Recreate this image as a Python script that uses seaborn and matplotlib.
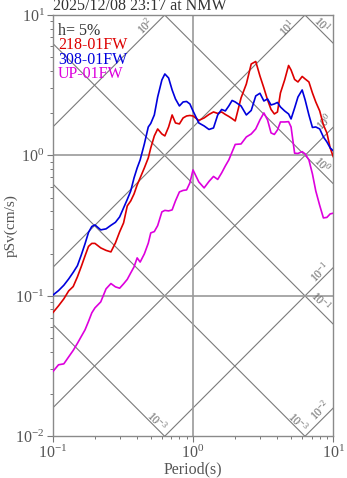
import matplotlib
matplotlib.use("Agg")
import matplotlib.pyplot as plt
import numpy as np
import pandas as pd
import seaborn as sns
from matplotlib.ticker import LogLocator, LogFormatterMathtext, NullFormatter

# Pseudo-velocity response spectra (h = 5%), three components
periods = [0.10, 0.11, 0.12, 0.13, 0.14, 0.15, 0.16, 0.17, 0.18, 0.19, 0.20,
           0.22, 0.24, 0.26, 0.28, 0.30, 0.32, 0.34, 0.36, 0.38, 0.40, 0.42,
           0.45, 0.48, 0.50, 0.53, 0.56, 0.60, 0.63, 0.67, 0.71, 0.75, 0.80,
           0.85, 0.90, 0.95,
           1.0, 1.1, 1.2, 1.3, 1.4, 1.5, 1.6, 1.7, 1.8, 1.9, 2.0,
           2.2, 2.4, 2.6, 2.8, 3.0, 3.2, 3.4, 3.6, 3.8, 4.0, 4.2,
           4.5, 4.8, 5.0, 5.3, 5.6, 6.0, 6.3, 6.7, 7.1, 7.5, 8.0, 8.5, 9.0,
           9.5, 10.0]

sv_218 = [0.0757, 0.0849, 0.0952, 0.1085, 0.1165, 0.1365, 0.1622, 0.1926, 0.2251, 0.2364, 0.2364,
          0.2196, 0.2108, 0.2056, 0.2384, 0.2855, 0.3308, 0.437, 0.4745, 0.532, 0.6166, 0.6916,
          0.8149, 0.9598, 1.131, 1.377, 1.544, 1.422, 1.377, 1.595, 1.942, 1.703, 1.676,
          1.849, 1.91, 1.926,
          1.91, 1.775, 1.849, 1.958, 2.04, 1.991, 2.04, 1.958, 1.895, 1.828, 1.76,
          2.566, 3.228, 4.479, 4.667, 3.68, 3.023, 2.483, 2.125, 1.974, 2.04, 2.786,
          3.446, 4.371, 4.059, 3.475, 3.336, 3.651, 3.503, 3.336, 2.786, 2.403, 2.074, 1.649, 1.446,
          1.131, 0.976]

sv_308 = [0.101, 0.109, 0.119, 0.132, 0.147, 0.164, 0.196, 0.235, 0.283, 0.312, 0.320,
          0.295, 0.300, 0.318, 0.334, 0.365, 0.423, 0.486, 0.559, 0.692, 0.815, 0.929,
          1.207, 1.595, 1.69, 1.942, 2.608, 3.446, 3.803, 3.561, 2.926, 2.524, 2.251,
          2.403, 2.423, 2.326,
          2.074, 1.703, 1.622, 1.531, 1.569, 1.942, 2.125, 2.074, 2.251, 2.463, 2.403,
          2.251, 1.942, 2.091, 2.652, 2.772, 2.443, 2.524, 2.288, 2.326, 2.384, 2.214,
          2.074, 1.974, 1.819, 2.178, 2.608, 2.926, 2.483, 1.942, 1.582, 1.595, 1.544, 1.354, 1.248,
          1.131, 1.077]

sv_up = [0.0288, 0.0323, 0.0328, 0.0368, 0.0409, 0.0459, 0.0515, 0.0573, 0.0658, 0.0757, 0.0821,
         0.0906, 0.1122, 0.1224, 0.1159, 0.1134, 0.1218, 0.1311, 0.1458, 0.1609, 0.1864, 0.174,
         0.199, 0.2372, 0.2808, 0.2869, 0.3165, 0.3962, 0.4061, 0.4027, 0.4094, 0.4745, 0.5497,
         0.5635, 0.568, 0.6373,
         0.7886, 0.6477, 0.5871, 0.6531, 0.7087, 0.6748, 0.7506, 0.8418, 0.929, 1.059, 1.198,
         1.207, 1.354, 1.422, 1.544, 1.789, 2.007, 1.789, 1.446, 1.411, 1.519, 1.731,
         1.731, 1.74, 1.595, 1.037, 1.033, 1.064, 1.025, 0.929, 0.7385, 0.5588, 0.4406, 0.359,
         0.362, 0.3834, 0.3879]

components = ["218-01FW", "308-01FW", "UP-01FW"]
colors = ["#dd0000", "#0000dd", "#dd00dd"]

# Tripartite guide lines: constant acceleration (cm/s^2) and displacement (cm)
accel_exponents = [2, 1, 0, -1, -2]
disp_exponents = [1, 0, -1, -2, -3]

# Guide line labels: (text, period, pSv, rotation)
guide_labels = [
    ("10$^{2}$", 0.455, 8.35, 45),
    ("10$^{1}$", 4.68, 8.08, 45),
    ("10$^{1}$", 8.31, 8.63, -45),
    ("10$^{0}$", 8.59, 1.73, 45),
    ("10$^{0}$", 8.31, 0.856, -45),
    ("10$^{-1}$", 8.04, 0.146, 45),
    ("10$^{-1}$", 8.17, 0.092, -45),
    ("10$^{-3}$", 0.554, 0.0129, -45),
    ("10$^{-3}$", 5.60, 0.0127, -45),
    ("10$^{-2}$", 8.04, 0.0154, 45),
]

sns.set_theme(style="white")
plt.rcParams["font.family"] = ["Liberation Serif", "DejaVu Serif"]
plt.rcParams["mathtext.fontset"] = "custom"
plt.rcParams["mathtext.rm"] = "Liberation Serif"
plt.rcParams["mathtext.it"] = "Liberation Serif:italic"
plt.rcParams["mathtext.default"] = "regular"

fig = plt.figure(figsize=(3.47, 4.78), dpi=100)
ax = fig.add_axes([52.7 / 347, 41.7 / 478, 280.6 / 347, 421.3 / 478])

xmin, xmax, ymin, ymax = 0.1, 10.0, 0.01, 10.0
t_line = np.logspace(-1.5, 1.5, 200)
guide_color = "#7a7a7a"
for k in accel_exponents:
    ax.plot(t_line, 10.0 ** k * t_line / (2 * np.pi), color=guide_color,
            lw=0.8, zorder=1)
for m in disp_exponents:
    ax.plot(t_line, 2 * np.pi * 10.0 ** m / t_line, color=guide_color,
            lw=0.8, zorder=1)

# Decade grid lines inside the frame
ax.axvline(1.0, color="#9a9a9a", lw=1.2, zorder=1)
for yv in (1.0, 0.1):
    ax.axhline(yv, color="#9a9a9a", lw=1.2, zorder=1)

df = pd.DataFrame({
    "period": periods * 3,
    "psv": sv_218 + sv_308 + sv_up,
    "component": [c for c in components for _ in periods],
})
sns.lineplot(data=df, x="period", y="psv", hue="component",
             palette=dict(zip(components, colors)), estimator=None,
             sort=False, legend=False, lw=1.2, ax=ax, zorder=3)

ax.set_xscale("log")
ax.set_yscale("log")
ax.set_xlim(xmin, xmax)
ax.set_ylim(ymin, ymax)

for txt, tp, sv, rot in guide_labels:
    ax.text(tp, sv, txt, rotation=rot, rotation_mode="anchor", ha="center",
            va="center", fontsize=8.5, color="#666666", zorder=2)

tick_grey = "#555555"
ax.xaxis.set_major_locator(LogLocator(base=10, numticks=10))
ax.yaxis.set_major_locator(LogLocator(base=10, numticks=10))
ax.xaxis.set_minor_locator(LogLocator(base=10, subs=np.arange(2, 10), numticks=20))
ax.yaxis.set_minor_locator(LogLocator(base=10, subs=np.arange(2, 10), numticks=20))
ax.xaxis.set_major_formatter(LogFormatterMathtext())
ax.yaxis.set_major_formatter(LogFormatterMathtext())
ax.xaxis.set_minor_formatter(NullFormatter())
ax.yaxis.set_minor_formatter(NullFormatter())
ax.tick_params(which="major", direction="out", length=4.3, width=0.8,
               color="#777777", labelcolor=tick_grey, labelsize=11.5, pad=1.5)
ax.tick_params(which="minor", direction="out", length=2.3, width=0.7,
               color="#777777")
ax.tick_params(axis="x", which="both", bottom=True, top=False)
ax.tick_params(axis="y", which="both", left=True, right=False)

for side in ("left", "bottom", "top", "right"):
    ax.spines[side].set_color("#8a8a8a")
    ax.spines[side].set_linewidth(1.0)

ax.set_xlabel("Period(s)", fontsize=11.5, color=tick_grey, labelpad=0)
ax.set_ylabel("pSv(cm/s)", fontsize=11, color=tick_grey)
ax.yaxis.set_label_coords(-0.125, 0.5)

# In-plot legend text
legend_lines = [("h= 5%", "#333333")] + list(zip(components, colors))
y0 = 0.9537
for i, (txt, col) in enumerate(legend_lines):
    ax.text(0.019, y0 - i * 0.0345, txt, transform=ax.transAxes, ha="left",
            va="baseline", fontsize=11.5, color=col, zorder=4)

fig.text(53 / 347, 1 - 10.5 / 478, "2025/12/08 23:17 at NMW", ha="left",
         va="baseline", fontsize=11.5, color="#333333")

fig.savefig("out.png", dpi=100)
